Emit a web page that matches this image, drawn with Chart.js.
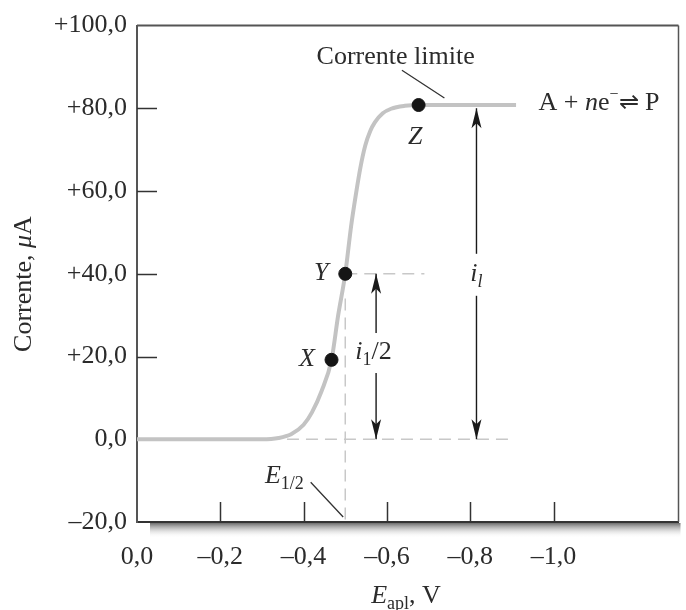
<!DOCTYPE html>
<html>
<head>
<meta charset="utf-8">
<script src="https://cdn.jsdelivr.net/npm/chart.js@4.4.1/dist/chart.umd.min.js"></script>
<style>
html, body { margin: 0; padding: 0; background: #fff; }
#wrap { width: 686px; height: 610px; }
</style>
</head>
<body>
<div id="wrap"><canvas id="myChart"></canvas></div>
<script>
// polarographic wave (E in V, i in uA)
const curveE = [0, -0.30, -0.34, -0.37, -0.40, -0.42, -0.443, -0.467, -0.483, -0.50, -0.514, -0.526, -0.536, -0.548, -0.56, -0.571, -0.59, -0.61, -0.643, -0.676, -0.91];
const curveI = [0, 0, 0.3, 1.2, 3.5, 6.5, 11.6, 19.2, 30, 40, 51.5, 59.5, 65.5, 71, 74.5, 76.6, 78.8, 79.9, 80.6, 80.8, 80.8];

// marked points X, Y, Z
const pointNames = ['X', 'Y', 'Z'];
const pointE = [-0.467, -0.5, -0.676];
const pointI = [19.2, 40, 80.8];

// limiting current and half-wave values
const halfWaveE = -0.5;
const limitI = 80.8;
const halfI = 40;
const arrowHalfE = -0.574;
const arrowLimitE = -0.815;

const xTicks = [0, -0.2, -0.4, -0.6, -0.8, -1.0];
const yTicks = [-20, 0, 20, 40, 60, 80, 100];

const SERIF = "'Liberation Serif', 'Times New Roman', serif";
const INK = '#2b2b2b';
const FS = 26;

function fmtX(v) {
    if (Math.abs(v) < 1e-9) return '0,0';
    return '\u2013' + Math.abs(v).toFixed(1).replace('.', ',');
}
function fmtY(v) {
    if (v === 0) return '0,0';
    if (v > 0) return '+' + v.toFixed(1).replace('.', ',');
    return '\u2013' + Math.abs(v).toFixed(1).replace('.', ',');
}

// draws runs of text with mixed styles; parts: {t, it, size, dy}
function textRuns(ctx, x, y, parts, align) {
    let total = 0;
    parts.forEach(p => {
        ctx.font = (p.it ? 'italic ' : '') + (p.size || FS) + 'px ' + SERIF;
        p.w = ctx.measureText(p.t).width;
        total += p.w;
    });
    let cx = x;
    if (align === 'center') cx = x - total / 2;
    if (align === 'right') cx = x - total;
    parts.forEach(p => {
        ctx.font = (p.it ? 'italic ' : '') + (p.size || FS) + 'px ' + SERIF;
        ctx.fillText(p.t, cx, y + (p.dy || 0));
        cx += p.w;
    });
    return total;
}

const frame = {
    id: 'frame',
    beforeDatasetsDraw(chart) {
        const ctx = chart.ctx;
        const a = chart.chartArea;
        const xs = chart.scales.x, ys = chart.scales.y;
        ctx.save();
        // shadow under the box
        const g = ctx.createLinearGradient(0, a.bottom, 0, a.bottom + 16);
        g.addColorStop(0, 'rgba(70,70,70,0.9)');
        g.addColorStop(1, 'rgba(255,255,255,0)');
        ctx.fillStyle = g;
        ctx.fillRect(a.left + 13, a.bottom + 1, a.right - a.left - 11, 16);
        // top and right border
        ctx.strokeStyle = '#555';
        ctx.lineWidth = 2;
        ctx.beginPath();
        ctx.moveTo(a.left, a.top);
        ctx.lineTo(a.right, a.top);
        ctx.stroke();
        ctx.lineWidth = 1.5;
        ctx.beginPath();
        ctx.moveTo(a.right, a.top);
        ctx.lineTo(a.right, a.bottom);
        ctx.stroke();
        // inward ticks
        ctx.strokeStyle = '#333';
        ctx.lineWidth = 1.5;
        xTicks.forEach(v => {
            if (v === 0) return;
            const px = Math.round(xs.getPixelForValue(v)) + 0.5;
            ctx.beginPath();
            ctx.moveTo(px, a.bottom);
            ctx.lineTo(px, a.bottom - 20);
            ctx.stroke();
        });
        yTicks.forEach(v => {
            if (v === 100 || v === -20) return;
            const py = Math.round(ys.getPixelForValue(v)) + 0.5;
            ctx.beginPath();
            ctx.moveTo(a.left, py);
            ctx.lineTo(a.left + 20, py);
            ctx.stroke();
        });
        ctx.restore();
    },
    afterDatasetsDraw(chart) {
        const ctx = chart.ctx;
        const xs = chart.scales.x, ys = chart.scales.y;
        const X = v => xs.getPixelForValue(v);
        const Y = v => ys.getPixelForValue(v);
        ctx.save();

        // arrow heads
        function head(px, py, dir) {
            ctx.beginPath();
            ctx.moveTo(px, py);
            ctx.lineTo(px - 5, py + dir * 20);
            ctx.lineTo(px, py + dir * 15);
            ctx.lineTo(px + 5, py + dir * 20);
            ctx.closePath();
            ctx.fill();
        }
        ctx.fillStyle = '#1a1a1a';
        head(X(arrowHalfE), Y(halfI), 1);
        head(X(arrowHalfE), Y(0), -1);
        head(X(arrowLimitE), Y(80), 1);
        head(X(arrowLimitE), Y(0), -1);

        // white gaps behind the arrow labels
        ctx.fillStyle = '#fff';
        ctx.fillRect(X(arrowLimitE) - 10, Y(40) - 20, 20, 42);
        ctx.fillRect(X(arrowHalfE) - 8, Y(19.4) - 26, 16, 40);

        // leader lines
        ctx.strokeStyle = '#333';
        ctx.lineWidth = 1.3;
        ctx.beginPath();
        ctx.moveTo(X(-0.636), Y(89.2));
        ctx.lineTo(X(-0.738), Y(82.5));
        ctx.moveTo(X(-0.417), Y(-10.4));
        ctx.lineTo(X(-0.495), Y(-18.8));
        ctx.stroke();

        ctx.fillStyle = INK;
        ctx.textBaseline = 'alphabetic';
        textRuns(ctx, X(-0.621), Y(90.6), [{t: 'Corrente limite'}], 'center');
        textRuns(ctx, X(-0.964), Y(79.6), [
            {t: 'A + '}, {t: 'n', it: true}, {t: 'e'}, {t: '\u2212', size: 16, dy: -11}, {t: '\u21cc', size: 24}, {t: ' P'}
        ], 'left');
        textRuns(ctx, X(-0.668), Y(71.4), [{t: 'Z', it: true}], 'center');
        textRuns(ctx, X(-0.442), Y(38.4), [{t: 'Y', it: true}], 'center');
        textRuns(ctx, X(-0.408), Y(17.7), [{t: 'X', it: true}], 'center');
        textRuns(ctx, X(-0.307), Y(-10.6), [{t: 'E', it: true}, {t: '1/2', size: 18, dy: 6}], 'left');
        textRuns(ctx, X(arrowLimitE), Y(38.2), [{t: 'i', it: true}, {t: 'l', it: true, size: 18, dy: 6}], 'center');
        textRuns(ctx, X(-0.524), Y(19.4), [{t: 'i', it: true}, {t: '1', size: 18, dy: 6}, {t: '/2'}], 'left');

        // axis titles
        textRuns(ctx, 406, 603, [{t: 'E', it: true}, {t: 'apl', size: 18, dy: 6}, {t: ', V'}], 'center');
        ctx.translate(31, 284);
        ctx.rotate(-Math.PI / 2);
        textRuns(ctx, 0, 0, [{t: 'Corrente, '}, {t: '\u03bc', it: true}, {t: 'A'}], 'center');
        ctx.restore();
    }
};

const ctx = document.getElementById('myChart');
const myChart = new Chart(ctx, {
    type: 'line',
    data: {
        datasets: [
            {
                label: 'curve',
                data: curveE.map((e, k) => ({x: e, y: curveI[k]})),
                borderColor: '#c3c3c3',
                borderWidth: 4,
                pointRadius: 0,
                cubicInterpolationMode: 'monotone',
                order: 2
            },
            {
                label: 'base',
                data: [{x: -0.36, y: 0}, {x: -0.895, y: 0}],
                borderColor: '#c8c8c8', borderWidth: 1.5, borderDash: [12, 7], pointRadius: 0, order: 3
            },
            {
                label: 'half',
                data: [{x: halfWaveE, y: halfI}, {x: -0.69, y: halfI}],
                borderColor: '#c8c8c8', borderWidth: 1.5, borderDash: [12, 7], pointRadius: 0, order: 3
            },
            {
                label: 'e12',
                data: [{x: halfWaveE, y: halfI - 6}, {x: halfWaveE, y: -20}],
                borderColor: '#c8c8c8', borderWidth: 1.5, borderDash: [12, 7], pointRadius: 0, order: 3
            },
            {
                label: 'arrowHalf',
                data: [{x: arrowHalfE, y: 0}, {x: arrowHalfE, y: halfI}],
                borderColor: '#1a1a1a', borderWidth: 1.4, pointRadius: 0, order: 1
            },
            {
                label: 'arrowLimit',
                data: [{x: arrowLimitE, y: 0}, {x: arrowLimitE, y: 80}],
                borderColor: '#1a1a1a', borderWidth: 1.4, pointRadius: 0, order: 1
            },
            {
                label: 'points',
                type: 'scatter',
                data: pointE.map((e, k) => ({x: e, y: pointI[k]})),
                backgroundColor: '#151515',
                borderColor: '#151515',
                pointRadius: 6.5,
                order: 0
            }
        ]
    },
    options: {
        responsive: true,
        maintainAspectRatio: false,
        animation: false,
        layout: { padding: { top: 23, right: 2, left: 0, bottom: 0 } },
        plugins: { legend: { display: false }, tooltip: { enabled: false } },
        scales: {
            x: {
                type: 'linear',
                min: -1.3,
                max: 0,
                reverse: true,
                afterBuildTicks: s => { s.ticks = xTicks.map(v => ({value: v})); },
                afterFit: s => { s.height = 88; s.paddingLeft = 0; s.paddingRight = 0; },
                grid: { display: false, drawTicks: false },
                border: { color: '#333', width: 2 },
                ticks: {
                    padding: 20,
                    color: INK,
                    font: { family: SERIF, size: FS },
                    callback: v => fmtX(v)
                }
            },
            y: {
                min: -20,
                max: 100,
                afterBuildTicks: s => { s.ticks = yTicks.map(v => ({value: v})); },
                afterFit: s => { s.width = 137; },
                grid: { display: false, drawTicks: false },
                border: { color: '#555', width: 2 },
                ticks: {
                    padding: 10,
                    color: INK,
                    font: { family: SERIF, size: FS },
                    callback: v => fmtY(v)
                }
            }
        }
    },
    plugins: [frame]
});
</script>
</body>
</html>
